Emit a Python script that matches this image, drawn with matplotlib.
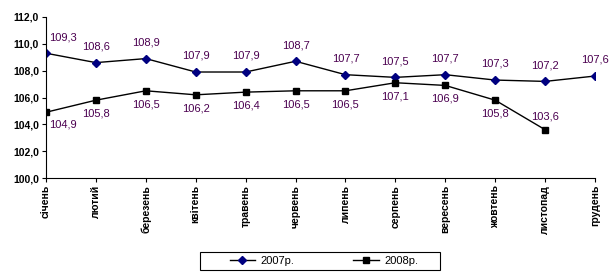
import matplotlib
matplotlib.use("Agg")
import matplotlib.pyplot as plt
from matplotlib.patches import Rectangle

months = ["січень", "лютий", "березень", "квітень", "травень", "червень",
          "липень", "серпень", "вересень", "жовтень", "листопад", "грудень"]
y2007 = [109.3, 108.6, 108.9, 107.9, 107.9, 108.7, 107.7, 107.5, 107.7, 107.3, 107.2, 107.6]
y2008 = [104.9, 105.8, 106.5, 106.2, 106.4, 106.5, 106.5, 107.1, 106.9, 105.8, 103.6]
yticks = [100, 102, 104, 106, 108, 110, 112]

plt.rcParams['font.family'] = ['Liberation Sans', 'DejaVu Sans']
fig = plt.figure(figsize=(6.12, 2.75), dpi=100)
ax = fig.add_axes([46/612, 1-178/275, (595-46)/612, (178-17)/275])

x7 = list(range(len(y2007)))
x8 = list(range(len(y2008)))
l1, = ax.plot(x7, y2007, color='black', lw=1, marker='D', ms=4,
              mfc='#000080', mec='#000080', label='2007р.')
l2, = ax.plot(x8, y2008, color='black', lw=1, marker='s', ms=4.5,
              mfc='black', mec='black', label='2008р.')

lab_col = '#4B0050'
def fmt(v):
    return f"{v:.1f}".replace('.', ',')

for i, v in enumerate(y2007):
    dx = 12 if i == 0 else 0
    ax.annotate(fmt(v), (i, v), xytext=(dx, 8), textcoords='offset points',
                ha='center', va='bottom', fontsize=8, color=lab_col)
for i, v in enumerate(y2008):
    if i == 0:
        off, va, dx = (-5, 'top', 12)
    elif i == 10:
        off, va, dx = (6, 'bottom', 0)
    else:
        off, va, dx = (-6, 'top', 0)
    ax.annotate(fmt(v), (i, v), xytext=(dx, off), textcoords='offset points',
                ha='center', va=va, fontsize=8, color=lab_col)

ax.set_xlim(0, 11)
ax.set_ylim(100, 112)
ax.set_yticks(yticks)
ax.set_yticklabels([fmt(t) for t in yticks], fontsize=7.5, fontweight='bold')
ax.set_xticks(x7)
ax.set_xticklabels(months, rotation=90, fontsize=7.5, fontweight='bold', va='top')
ax.tick_params(axis='both', direction='out', length=3, width=0.8, pad=2)
for s in ['top', 'right']:
    ax.spines[s].set_visible(False)
for s in ['left', 'bottom']:
    ax.spines[s].set_linewidth(0.8)

fig.patches.append(Rectangle((200/612, 1-270/275), 240/612, 18/275,
                             transform=fig.transFigure, fill=False,
                             edgecolor='black', lw=0.8))
leg = fig.legend(handles=[l1, l2], loc='center', bbox_to_anchor=(324/612, 1-261/275),
                 ncol=2, fontsize=8, frameon=False,
                 handlelength=2.3, columnspacing=5.3, borderpad=0.2, handletextpad=0.5)

fig.savefig('out.png', dpi=100)
